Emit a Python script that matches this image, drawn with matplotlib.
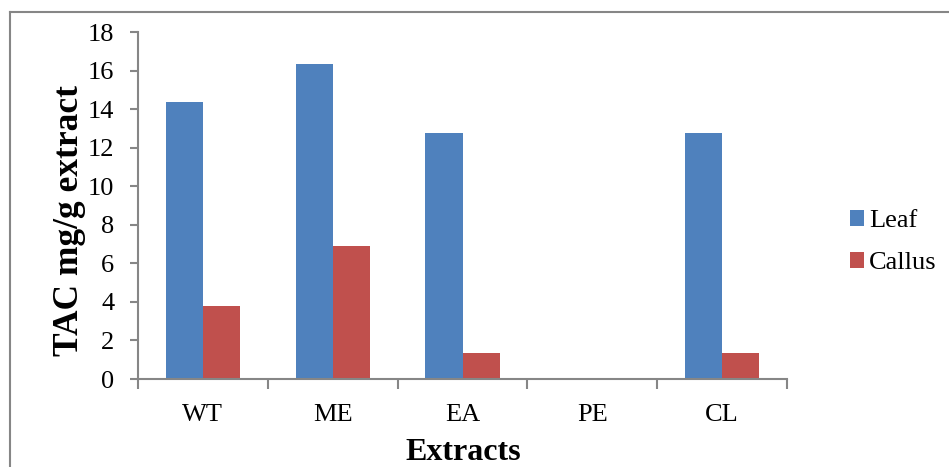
import matplotlib
matplotlib.use("Agg")
import matplotlib.pyplot as plt
import numpy as np
from matplotlib.lines import Line2D

categories = ["WT", "ME", "EA", "PE", "CL"]
leaf = [14.35, 16.35, 12.75, 0, 12.75]
callus = [3.8, 6.9, 1.35, 0, 1.35]
series_names = ["Leaf", "Callus"]
colors = ["#4F81BD", "#C0504D"]

plt.rcParams['font.family'] = ['Liberation Serif', 'DejaVu Serif']

W, H = 949, 467
fig = plt.figure(figsize=(W / 100, H / 100), dpi=100)
ax = fig.add_axes([138 / W, 1 - 379 / H, (787 - 138) / W, (379 - 32) / H])

x = np.arange(len(categories))
bw = 1 / 3.5
ax.bar(x - bw / 2, leaf, width=bw, color=colors[0], label=series_names[0])
ax.bar(x + bw / 2, callus, width=bw, color=colors[1], label=series_names[1])

ax.set_xlim(-0.5, len(categories) - 0.5)
ax.set_ylim(0, 18)
ax.set_yticks(np.arange(0, 19, 2))
ax.set_xticks(x)
ax.set_xticklabels(categories)
ax.set_xticks(np.arange(-0.5, len(categories), 1), minor=True)

gray = "#868686"
for s in ["top", "right"]:
    ax.spines[s].set_visible(False)
for s in ["left", "bottom"]:
    ax.spines[s].set_color(gray)
    ax.spines[s].set_linewidth(1.5)

ax.tick_params(axis='x', which='major', length=0, labelsize=19, pad=18)
ax.tick_params(axis='x', which='minor', length=7, width=1.5, color=gray)
ax.tick_params(axis='y', length=6, width=1.5, color=gray, labelsize=19, pad=11)

ax.set_ylabel("TAC mg/g extract", fontsize=25.5, fontweight='bold')
ax.yaxis.set_label_coords(-0.080, (379 - 220) / 347)
ax.set_xlabel("Extracts", fontsize=23, fontweight='bold')
ax.xaxis.set_label_coords((463 - 138) / 649, -(438 - 379) / 347)

leg = ax.legend(loc='center left', bbox_to_anchor=(839 / W, 1 - 242 / H),
                bbox_transform=fig.transFigure, frameon=False, fontsize=19,
                handlelength=0.55, handleheight=0.55, handletextpad=0.2,
                labelspacing=0.75, borderaxespad=0)

fig.add_artist(Line2D([10 / W, 10 / W], [0, 1 - 12 / H], transform=fig.transFigure,
                      color=gray, linewidth=1.5))
fig.add_artist(Line2D([10 / W, 1], [1 - 12 / H, 1 - 12 / H], transform=fig.transFigure,
                      color=gray, linewidth=1.5))

fig.savefig("out.png", dpi=100)
